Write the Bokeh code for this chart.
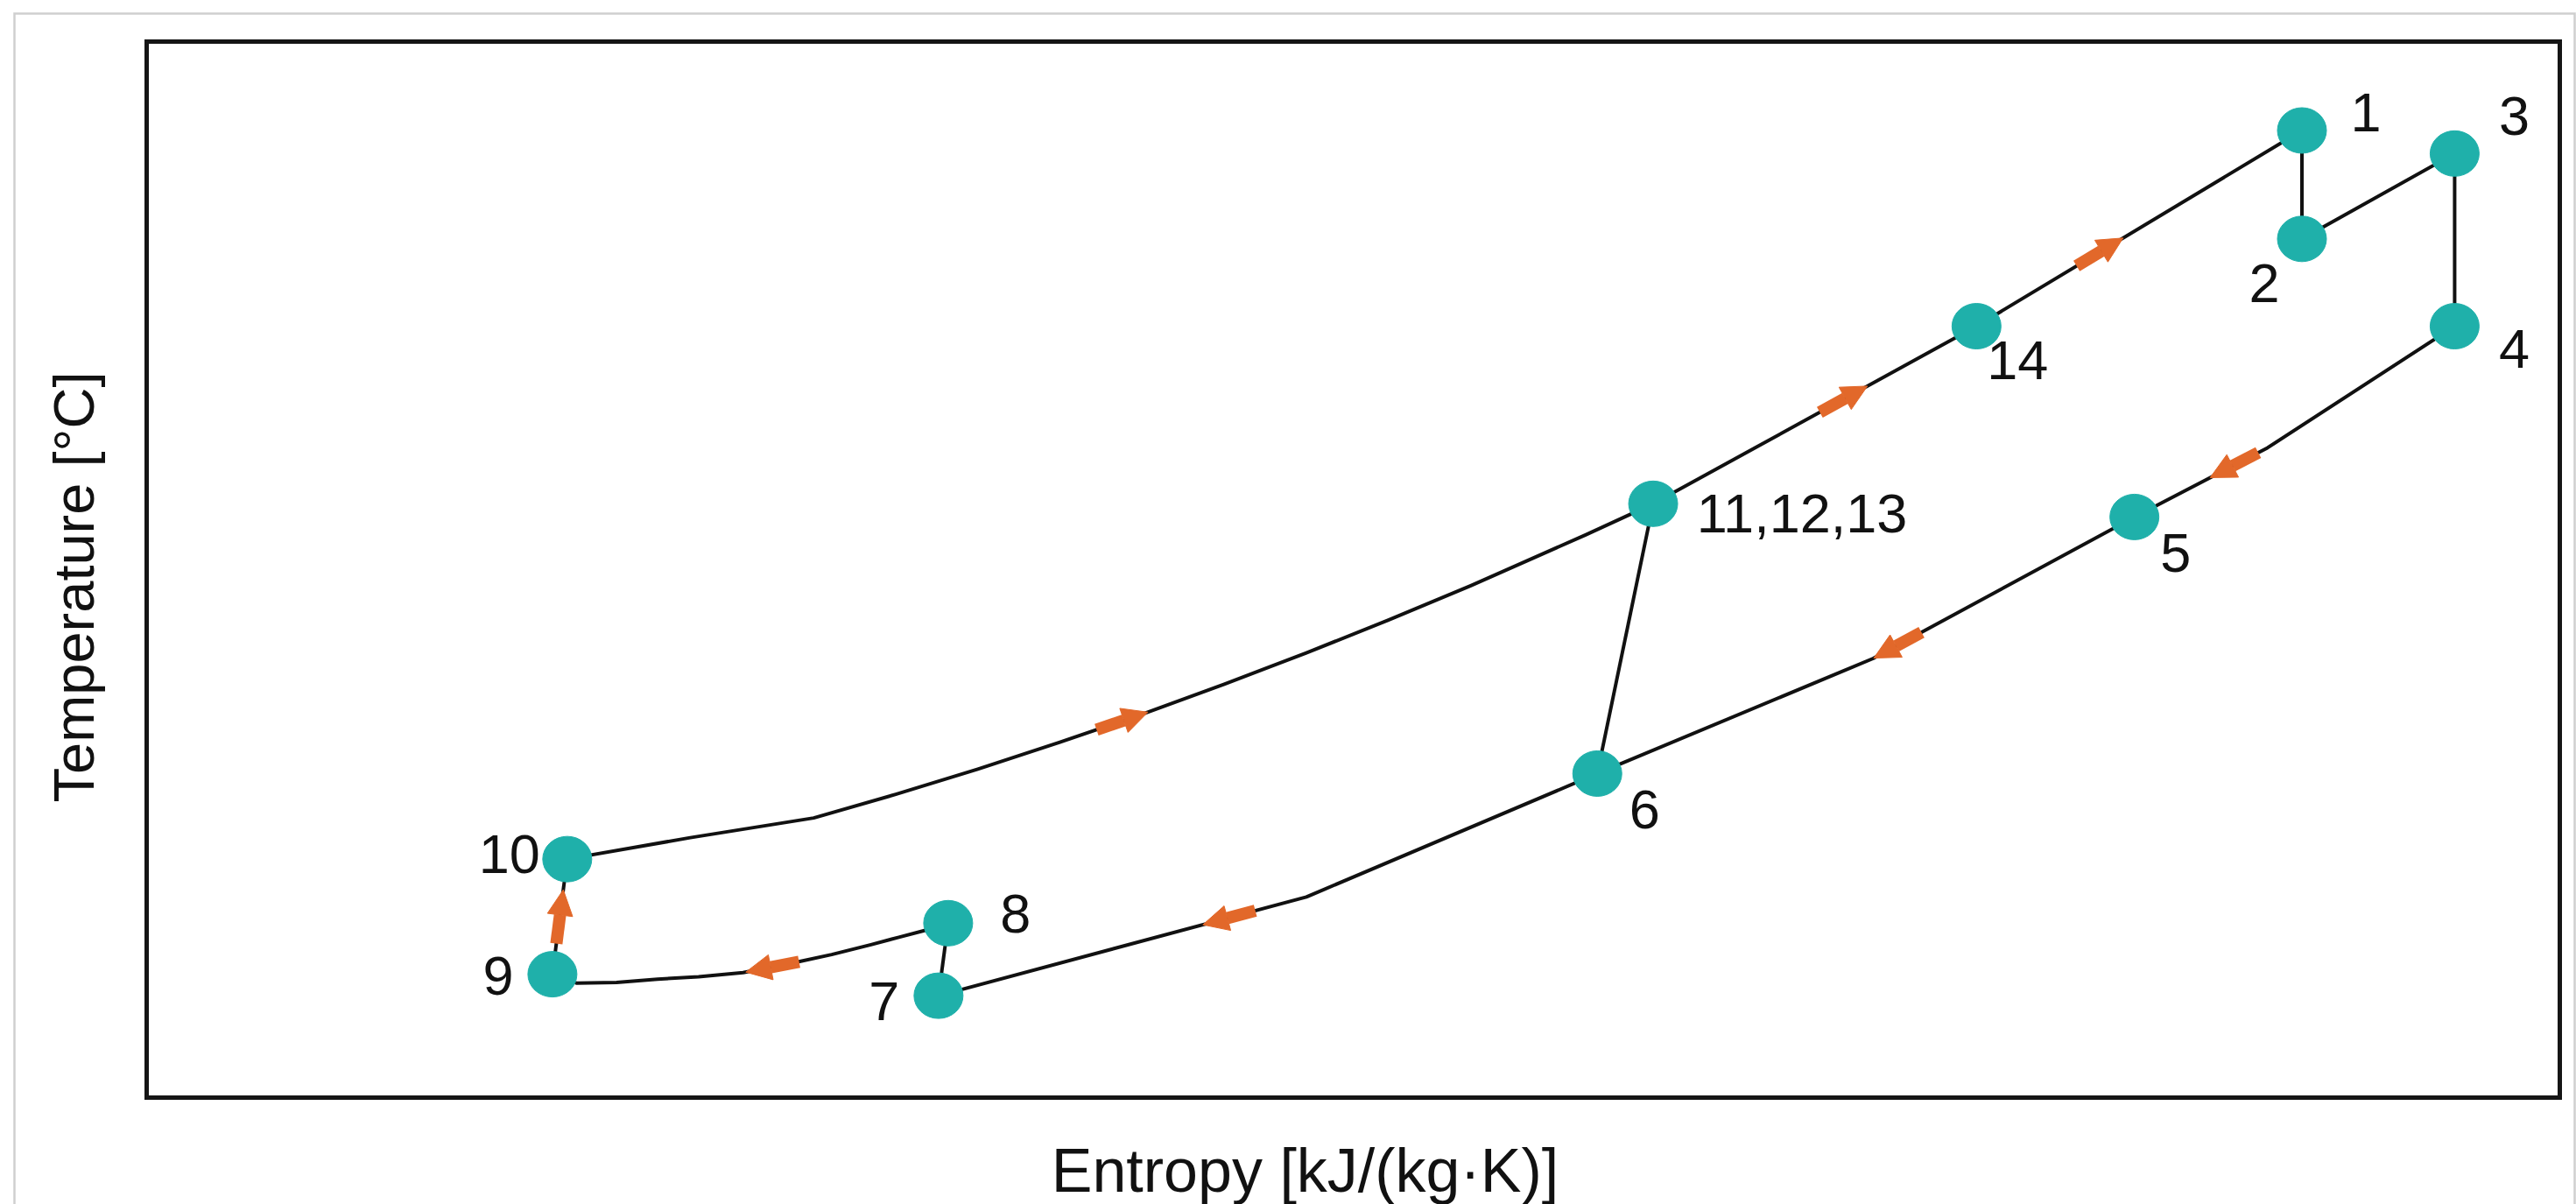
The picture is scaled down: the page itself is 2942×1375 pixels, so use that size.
import math
from bokeh.plotting import figure
from bokeh.models import Range1d, Arrow, NormalHead, ColumnDataSource
from bokeh.embed import file_html
from bokeh.resources import INLINE
from bokeh.core.properties import value

# ---------------- data (entropy kJ/(kg·K), temperature °C) ----------------
state_names = ["1", "2", "3", "4", "5", "6", "7", "8", "9", "10", "11,12,13", "14"]
state_s = [7.252, 7.252, 7.695, 7.695, 6.766, 5.208, 3.297, 3.325, 2.177, 2.220, 5.370, 6.308]
state_T = [549.5, 487.9, 536.4, 438.3, 329.9, 184.1, 57.9, 99.1, 70.1, 135.5, 337.4, 438.3]

# heating path 10 -> 11 -> 14 -> 1
heat_s = [2.220, 2.577, 2.935, 3.173, 3.411, 3.649, 3.888, 4.126, 4.364, 4.602, 4.841, 5.174,
          5.370, 6.308, 7.252]
heat_T = [135.5, 147.7, 158.9, 172.3, 186.6, 201.9, 217.9, 234.9, 252.7, 271.3, 290.9, 319.7,
          337.4, 438.3, 549.5]
# 1 -> 2 -> 3 -> 4
top_s = [7.252, 7.252, 7.695, 7.695]
top_T = [549.5, 487.9, 536.4, 438.3]
# cooling path 4 -> 5 -> 6 -> 7
cool_s = [7.695, 7.152, 6.766, 6.008, 5.208, 4.364, 3.297]
cool_T = [438.3, 369.2, 329.9, 249.5, 184.1, 114.0, 57.9]
# 7 -> 8
pump_s = [3.297, 3.325]
pump_T = [57.9, 99.1]
# 8 -> 9
exp_s = [3.325, 3.263, 3.182, 3.101, 2.987, 2.877, 2.730, 2.601, 2.482, 2.363, 2.248, 2.177]
exp_T = [99.1, 95.3, 91.1, 86.9, 81.3, 76.6, 71.0, 68.7, 67.3, 65.4, 65.0, 70.1]
# 9 -> 10
lift_s = [2.177, 2.220]
lift_T = [70.1, 135.5]
# 11 -> 6
link_s = [5.370, 5.208]
link_T = [337.4, 184.1]

paths = {
    "heat": (heat_s, heat_T),
    "cool": (cool_s, cool_T),
    "exp": (exp_s, exp_T),
    "lift": (lift_s, lift_T),
}
# flow-direction arrows: (path, segment index, fraction along segment)
arrow_path = ["heat", "heat", "heat", "cool", "cool", "cool", "exp", "lift"]
arrow_seg = [13, 12, 5, 1, 2, 5, 5, 0]
arrow_frac = [0.379, 0.589, 0.757, 0.25, 0.906, 0.21, 0.42, 0.5]

x_title = "Entropy [kJ/(kg·K)]"
y_title = "Temperature [°C]"

# ---------------- layout / style ----------------
S_MIN, S_MAX = 1.0, 8.0        # axis extent
T_MIN, T_MAX = 0.0, 600.0
CANVAS_X0, CANVAS_Y0 = 0, 0    # page position of canvas (Bokeh template has no body margin)
CANVAS_W, CANVAS_H = 2942, 1375
BOX_L, BOX_R, BOX_T, BOX_B = 167, 2923, 47, 1253   # axes box on page (px)
px_s = (BOX_R - BOX_L) / (S_MAX - S_MIN)
px_T = (BOX_B - BOX_T) / (T_MAX - T_MIN)


def sx(page_x):
    return S_MIN + (page_x - BOX_L) / px_s


def ty(page_y):
    return T_MIN + (BOX_B - page_y) / px_T


TEAL = "#1fb0aa"
ORANGE = "#e2682a"
INK = "#111111"
FONT = "Liberation Sans"

p = figure(
    frame_width=CANVAS_W, frame_height=CANVAS_H, min_border=0,
    x_range=Range1d(sx(CANVAS_X0), sx(CANVAS_X0 + CANVAS_W)),
    y_range=Range1d(ty(CANVAS_Y0 + CANVAS_H), ty(CANVAS_Y0)),
    x_axis_location=None, y_axis_location=None,
    output_backend="svg", toolbar_location=None,
    background_fill_color="white", border_fill_color="white",
)
p.xgrid.visible = False
p.ygrid.visible = False
p.outline_line_color = None

# light outer border of the figure panel
GRAY = "#cfcfcf"
p.line([sx(16), sx(16), sx(2940), sx(2940)], [ty(CANVAS_H), ty(15), ty(15), ty(CANVAS_H)],
       line_color=GRAY, line_width=2.5, line_join="miter")

# axes box
p.quad(left=S_MIN, right=S_MAX, bottom=T_MIN, top=T_MAX, fill_color=None,
       line_color="#151515", line_width=5, line_join="miter")

LW = 4.0
for xs, ys in [(heat_s, heat_T), (top_s, top_T), (cool_s, cool_T), (pump_s, pump_T),
               (exp_s, exp_T), (lift_s, lift_T), (link_s, link_T)]:
    p.line(xs, ys, line_color=INK, line_width=LW, line_join="round")

# arrows
ALEN = 62.0
for name, seg, f in zip(arrow_path, arrow_seg, arrow_frac):
    xs, ys = paths[name]
    x0, y0, x1, y1 = xs[seg], ys[seg], xs[seg + 1], ys[seg + 1]
    cx, cy = x0 + (x1 - x0) * f, y0 + (y1 - y0) * f
    dx, dy = (x1 - x0) * px_s, (y1 - y0) * px_T
    n = math.hypot(dx, dy)
    ux, uy = dx / n, dy / n
    p.add_layout(Arrow(
        end=NormalHead(size=29, fill_color=ORANGE, line_color=ORANGE, line_width=1),
        x_start=cx - ux * ALEN / 2 / px_s, y_start=cy - uy * ALEN / 2 / px_T,
        x_end=cx + ux * ALEN / 2 / px_s, y_end=cy + uy * ALEN / 2 / px_T,
        line_color=ORANGE, line_width=14, line_cap="butt"))

# state points
p.ellipse(state_s, state_T, width=56, height=52, width_units="screen", height_units="screen",
          fill_color=TEAL, line_color=TEAL)

# point labels (screen offsets)
lab_dx = [73, -43, 68, 68, 47, 54, -62, 77, -62, -66, 170, 47]
lab_dy = [-21, 51, -43, 26, 41, 41, 6, -11, 2, -6, 11, 39]
src = ColumnDataSource(dict(x=state_s, y=state_T, t=state_names, dx=lab_dx, dy=lab_dy))
p.text(x="x", y="y", text="t", x_offset="dx", y_offset="dy", source=src,
       text_font=value(FONT), text_font_size="63px", text_color=INK,
       text_align="center", text_baseline="middle")

# axis titles
p.text(x=[sx(1490)], y=[ty(1336)], text=[x_title], text_font=value(FONT), text_font_size="70px",
       text_color=INK, text_align="center", text_baseline="middle")
p.text(x=[sx(84)], y=[ty(670)], text=[y_title], text_font=value(FONT), text_font_size="65px",
       text_color=INK, text_align="center", text_baseline="middle", angle=math.pi / 2)

open("out.html", "w").write(file_html(p, INLINE, title="T-s diagram"))
